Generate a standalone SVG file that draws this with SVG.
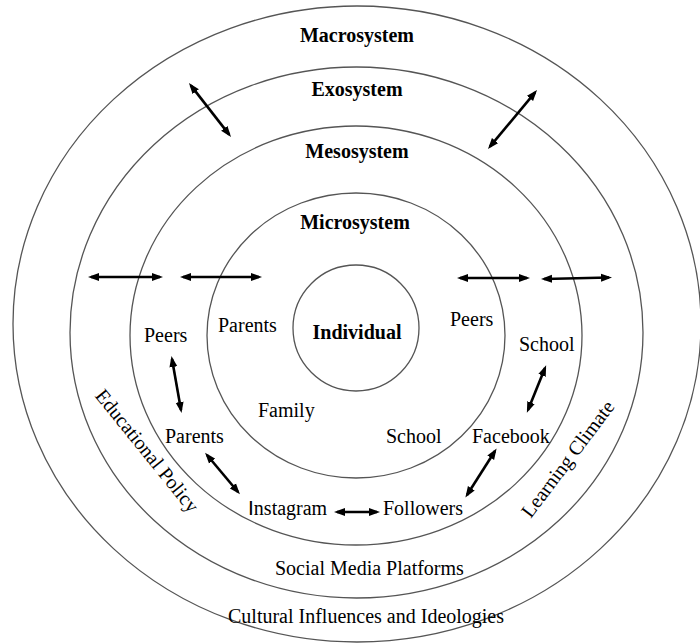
<svg xmlns="http://www.w3.org/2000/svg" width="700" height="643" viewBox="0 0 700 643">
<style>
.ring{fill:none;stroke:#555;stroke-width:1.3}
.t{font-family:"Liberation Serif","Times New Roman",serif;font-size:20px;fill:#000}
.b{font-weight:bold;text-anchor:middle}
.arr{stroke:#000;stroke-width:2.6;fill:none;marker-start:url(#ah);marker-end:url(#ah)}
</style>
<defs>
<marker id="ah" markerWidth="11" markerHeight="9" refX="8" refY="4.5" orient="auto-start-reverse" markerUnits="userSpaceOnUse">
<path d="M0,0.5 L11,4.5 L0,8.5 z" fill="#000"/>
</marker>
</defs>
<rect width="700" height="643" fill="#fff"/>
<g id="macrosystem">
<ellipse class="ring" cx="357" cy="324" rx="344" ry="318"/>
<text class="t b" x="357" y="42">Macrosystem</text>
<text class="t" x="228" y="623">Cultural Influences and Ideologies</text>
</g>
<g id="exosystem">
<ellipse class="ring" cx="356.5" cy="332.5" rx="286.5" ry="265.5"/>
<text class="t b" x="357" y="96">Exosystem</text>
<text class="t" x="275" y="575">Social Media Platforms</text>
<text class="t" text-anchor="middle" transform="translate(142,455) rotate(51)">Educational Policy</text>
<text class="t" text-anchor="middle" transform="translate(573,463) rotate(-53)">Learning Climate</text>
</g>
<g id="mesosystem">
<ellipse class="ring" cx="356" cy="335.5" rx="226" ry="209.5"/>
<text class="t b" x="357" y="158">Mesosystem</text>
<text class="t" x="144" y="342">Peers</text>
<text class="t" x="165" y="443">Parents</text>
<text class="t" x="519" y="351">School</text>
<text class="t" x="472" y="443">Facebook</text>
<text class="t" x="248" y="515"><tspan font-family="Liberation Sans, sans-serif" font-size="21">I</tspan>nstagram</text>
<text class="t" x="383" y="515">Followers</text>
</g>
<g id="microsystem">
<ellipse class="ring" cx="356" cy="335.5" rx="149" ry="142.5"/>
<text class="t b" x="355" y="229">Microsystem</text>
<text class="t" x="218" y="332">Parents</text>
<text class="t" x="450" y="326">Peers</text>
<text class="t" x="258" y="417">Family</text>
<text class="t" x="386" y="443">School</text>
</g>
<g id="individual">
<circle class="ring" cx="356" cy="328" r="63"/>
<text class="t b" x="357" y="339">Individual</text>
</g>
<g id="connectors">
<line class="arr" x1="190.8" y1="85.4" x2="229.2" y2="134.6"/>
<line class="arr" x1="535.1" y1="92.3" x2="489.9" y2="146.7"/>
<line class="arr" x1="91" y1="277" x2="160" y2="277"/>
<line class="arr" x1="183" y1="277" x2="259" y2="277"/>
<line class="arr" x1="460" y1="278" x2="527" y2="278"/>
<line class="arr" x1="544" y1="279" x2="609" y2="277.5"/>
<line class="arr" x1="172" y1="359" x2="181" y2="410"/>
<line class="arr" x1="207" y1="455" x2="238" y2="492"/>
<line class="arr" x1="337" y1="512" x2="377" y2="512"/>
<line class="arr" x1="467" y1="495" x2="495" y2="451"/>
<line class="arr" x1="528" y1="410" x2="545" y2="368"/>
</g>
</svg>
